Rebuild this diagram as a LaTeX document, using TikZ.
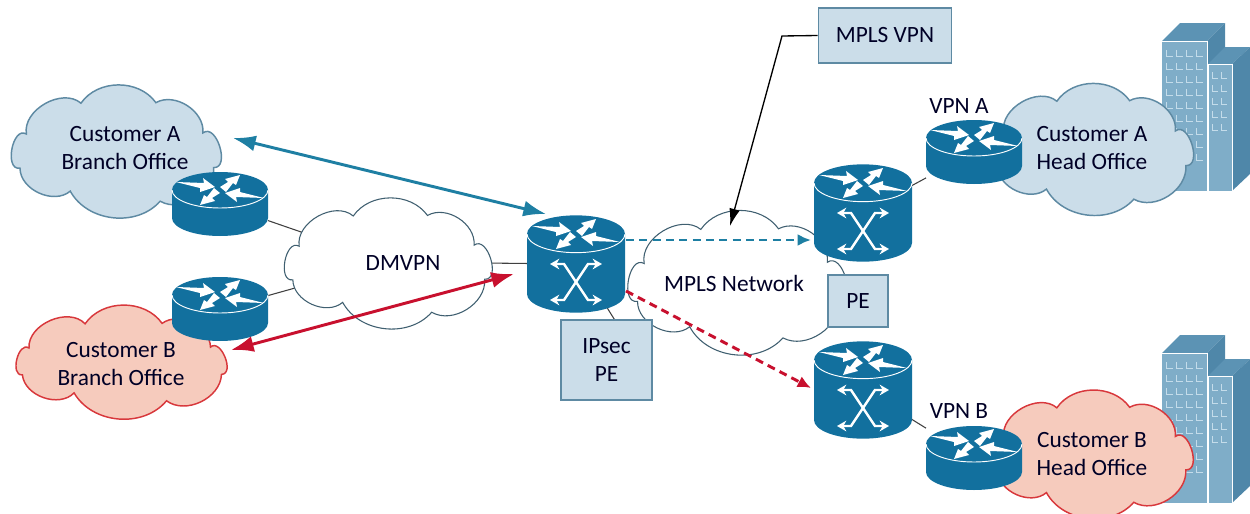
\documentclass[tikz,border=0pt]{standalone}
\usepackage{fontspec}
\setmainfont{Carlito}
\usetikzlibrary{arrows.meta}
\definecolor{dev}{HTML}{12709E}
\definecolor{bluefill}{HTML}{CBDDE9}
\definecolor{blueline}{HTML}{5E8AA3}
\definecolor{redfill}{HTML}{F6CBBD}
\definecolor{redline}{HTML}{D8383C}
\definecolor{cloudline}{HTML}{3F5F70}
\definecolor{arrowblue}{HTML}{1E7FA3}
\definecolor{arrowred}{HTML}{C8102E}
\definecolor{bfront}{HTML}{7FADC8}
\definecolor{btop}{HTML}{5C93B4}
\definecolor{bside}{HTML}{4F87A9}
\definecolor{bwin}{HTML}{C4DCEA}
\tikzset{
 lab/.style={font=\fontsize{17.5}{21}\selectfont,align=center,text=black!85!blue,inner sep=0pt},
 anchorbox/.style={inner sep=0pt,outer sep=0pt,rectangle},
 infobox/.style={draw=blueline,fill=bluefill,line width=1.2pt,rectangle,inner sep=0pt,lab},
 wire/.style={line width=.8pt,draw=black!75},
 blueArrow/.style={draw=arrowblue,line width=2.2pt,{Latex[length=17pt,width=12pt]}-{Latex[length=17pt,width=12pt]}},
 redArrow/.style={draw=arrowred,line width=2.2pt,{Latex[length=17pt,width=12pt]}-{Latex[length=17pt,width=12pt]}},
 blueDash/.style={draw=arrowblue,line width=2.2pt,dash pattern=on 6pt off 4pt,-{Latex[length=10pt,width=9pt]}},
 redDash/.style={draw=arrowred,line width=2.2pt,dash pattern=on 6pt off 4pt,-{Latex[length=10pt,width=9pt]}},
 whiteCloud/.style={draw=cloudline,fill=white,line width=.8pt},
 blueCloud/.style={draw=blueline,fill=bluefill,line width=1.1pt},
 redCloud/.style={draw=redline,fill=redfill,line width=1.1pt},
 pics/topdisc/.style={code={
  \fill[white] (-44,-8)--(-16,-7)--(-17,-12)--(-5,-3)--(-20,2)--(-20,-2)--cycle;
  \fill[white] (44,8)--(16,7)--(17,12)--(5,3)--(20,-2)--(20,2)--cycle;
  \fill[white] (0,-3)--(8,-8)--(5,-11)--(20,-15)--(16,-5)--(13,-7)--(6,2)--cycle;
  \fill[white] (0,3)--(-8,8)--(-5,11)--(-20,15)--(-16,5)--(-13,7)--(-6,-2)--cycle;
 }},
 pics/routerpic/.style={code={
  \fill[dev] (-48,0)--(-48,28) arc[start angle=180,end angle=360,x radius=36pt,y radius=13.5pt]--(48,0)--cycle;
  \fill[dev] (0,0) ellipse[x radius=36pt,y radius=13.5pt];
  \draw[white,line width=.7pt] (-48,0) arc[start angle=180,end angle=360,x radius=36pt,y radius=13.5pt];
  \pic {topdisc};
 }},
 pics/switchpic/.style={code={
  \fill[dev] (-49,0)--(-49,60) arc[start angle=180,end angle=360,x radius=36.75pt,y radius=14pt]--(49,0)--cycle;
  \fill[dev] (0,0) ellipse[x radius=36.75pt,y radius=14pt];
  \draw[white,line width=.7pt] (-49,0) arc[start angle=180,end angle=360,x radius=36.75pt,y radius=14pt];
  \pic {topdisc};
  \draw[white,line width=1.8pt,{Stealth[length=7pt,width=8pt]}-{Stealth[length=7pt,width=8pt]}] (-26,30)--(-12,30)--(12,66)--(26,66);
  \draw[white,line width=1.8pt,{Stealth[length=7pt,width=8pt]}-{Stealth[length=7pt,width=8pt]}] (-26,66)--(-12,66)--(12,30)--(26,30);
 }},
 pics/buildingpic/.style={code={
  \fill[btop] (1162,41)--(1180,23)--(1225,23)--(1207,41)--cycle;
  \fill[bside] (1207,41)--(1225,23)--(1225,173)--(1207,191)--cycle;
  \fill[bfront] (1162,41) rectangle (1207,191);
  \draw[white,line width=.3pt] (1162,41)--(1207,41)--(1207,191);
  \fill[btop] (1208,64)--(1225,47)--(1250,47)--(1232,64)--cycle;
  \fill[bside] (1232,64)--(1250,47)--(1250,174)--(1232,191)--cycle;
  \fill[bfront] (1208,64) rectangle (1232,191);
  \draw[white,line width=.3pt] (1208,191)--(1208,64)--(1232,64)--(1232,191);
  \foreach \yy in {50,63,76,89,102,115,128,141,154}{
   \foreach \xx in {1166,1176,1186,1196}{
    \draw[bwin,line width=.5pt] (\xx,\yy)--(\xx,\yy+6)--(\xx+7,\yy+6);
   }}
  \foreach \yy in {72,85,98,111,124}{
   \foreach \xx in {1212,1221}{
    \draw[bwin,line width=.5pt] (\xx,\yy)--(\xx,\yy+6)--(\xx+6,\yy+6);
   }}
 }}
}
\newcommand{\cloudat}[5]{%
 \begin{scope}[shift={(#1,#2)},x=#3*.75pt,y=#4*.75pt]
 \path[#5] (-.8,.25) to[bend left=70] (-.29,.8) to[bend left=55] (.41,.81)
   to[bend left=62] (.85,.27) to[bend left=110,looseness=1.2] (.95,-.35)
   to[bend left=62] (.45,-.95) to[bend left=55] (-.39,-.77)
   to[bend left=65] (-.86,-.36) to[bend left=110,looseness=1.2] (-.8,.25) -- cycle;
 \end{scope}}
\begin{document}
\begin{tikzpicture}[x=.75pt,y=-.75pt]
\useasboundingbox (0,0) rectangle (1250,514);
\node[anchorbox,minimum width=72pt,minimum height=48pt] (ra) at (220,204) {};
\node[anchorbox,minimum width=72pt,minimum height=48pt] (rb) at (220,309) {};
\node[anchorbox,minimum width=72pt,minimum height=48pt] (rvpna) at (974,152) {};
\node[anchorbox,minimum width=72pt,minimum height=48pt] (rvpnb) at (974,458) {};
\node[anchorbox,minimum width=73pt,minimum height=73pt] (main) at (576,264) {};
\node[anchorbox,minimum width=73pt,minimum height=73pt] (pea) at (863,212) {};
\node[anchorbox,minimum width=73pt,minimum height=73pt] (peb) at (863,389) {};
\node[anchorbox] (dmvpn) at (388,262) {};
\node[anchorbox] (mpls) at (735,280) {};
\draw[wire] (ra) -- (dmvpn);
\draw[wire] (rb) -- (dmvpn);
\draw[wire] (main) -- (dmvpn);
\draw[wire] (pea) -- (rvpna);
\draw[wire] (peb) -- (rvpnb);
\cloudat{384}{260}{106}{55}{whiteCloud}
\cloudat{733}{279}{111}{62}{whiteCloud}
\cloudat{112}{148}{107}{56}{blueCloud}
\cloudat{117}{359}{110}{44}{redCloud}
\pic at (0,0) {buildingpic};
\pic at (0,312) {buildingpic};
\cloudat{1087}{146}{104}{56}{blueCloud}
\cloudat{1087}{451}{104}{54}{redCloud}
\coordinate (tickA) at (606,306);
\coordinate (tickB) at (616,322);
\draw[wire] (tickA) -- (tickB);
\node[infobox,minimum width=100pt,minimum height=41pt] (boxvpn) at (885,35.5) {MPLS VPN};
\node[infobox,minimum width=45pt,minimum height=39pt] (boxpe) at (858,301) {PE};
\node[infobox,minimum width=68pt,minimum height=60pt] (boxipsec) at (606.5,360) {IPsec\\PE};
\pic at (220,190) {routerpic};
\pic at (220,295) {routerpic};
\pic at (974,138) {routerpic};
\pic at (974,444) {routerpic};
\pic at (576,234) {switchpic};
\pic at (863,183) {switchpic};
\pic at (863,360) {switchpic};
\coordinate (blueA) at (233,138);
\coordinate (blueB) at (546,214);
\coordinate (redA) at (231,350);
\coordinate (redB) at (514,274);
\coordinate (dbA) at (626,240);
\coordinate (dbB) at (811,240);
\coordinate (drA) at (626,291);
\coordinate (drB) at (811,388);
\coordinate (elbow) at (782,36);
\coordinate (calloutEnd) at (730,226);
\draw[blueArrow] (blueA) -- (blueB);
\draw[redArrow] (redA) -- (redB);
\draw[blueDash] (dbA) -- (dbB);
\draw[redDash] (drA) -- (drB);
\draw[draw=black,line width=1pt,-{Latex[length=13pt,width=8pt]}] (boxvpn.west) -- (elbow) -- (calloutEnd);
\node[lab] (t1) at (125,148) {Customer A\\Branch Office};
\node[lab] (t2) at (121,364) {Customer B\\Branch Office};
\node[lab] (t3) at (403,263) {DMVPN};
\node[lab] (t4) at (734,283) {MPLS Network};
\node[lab] (t5) at (1092,148) {Customer A\\Head Office};
\node[lab] (t6) at (1092,454) {Customer B\\Head Office};
\node[lab] (t7) at (959,106) {VPN A};
\node[lab] (t8) at (959,411) {VPN B};
\end{tikzpicture}
\end{document}
